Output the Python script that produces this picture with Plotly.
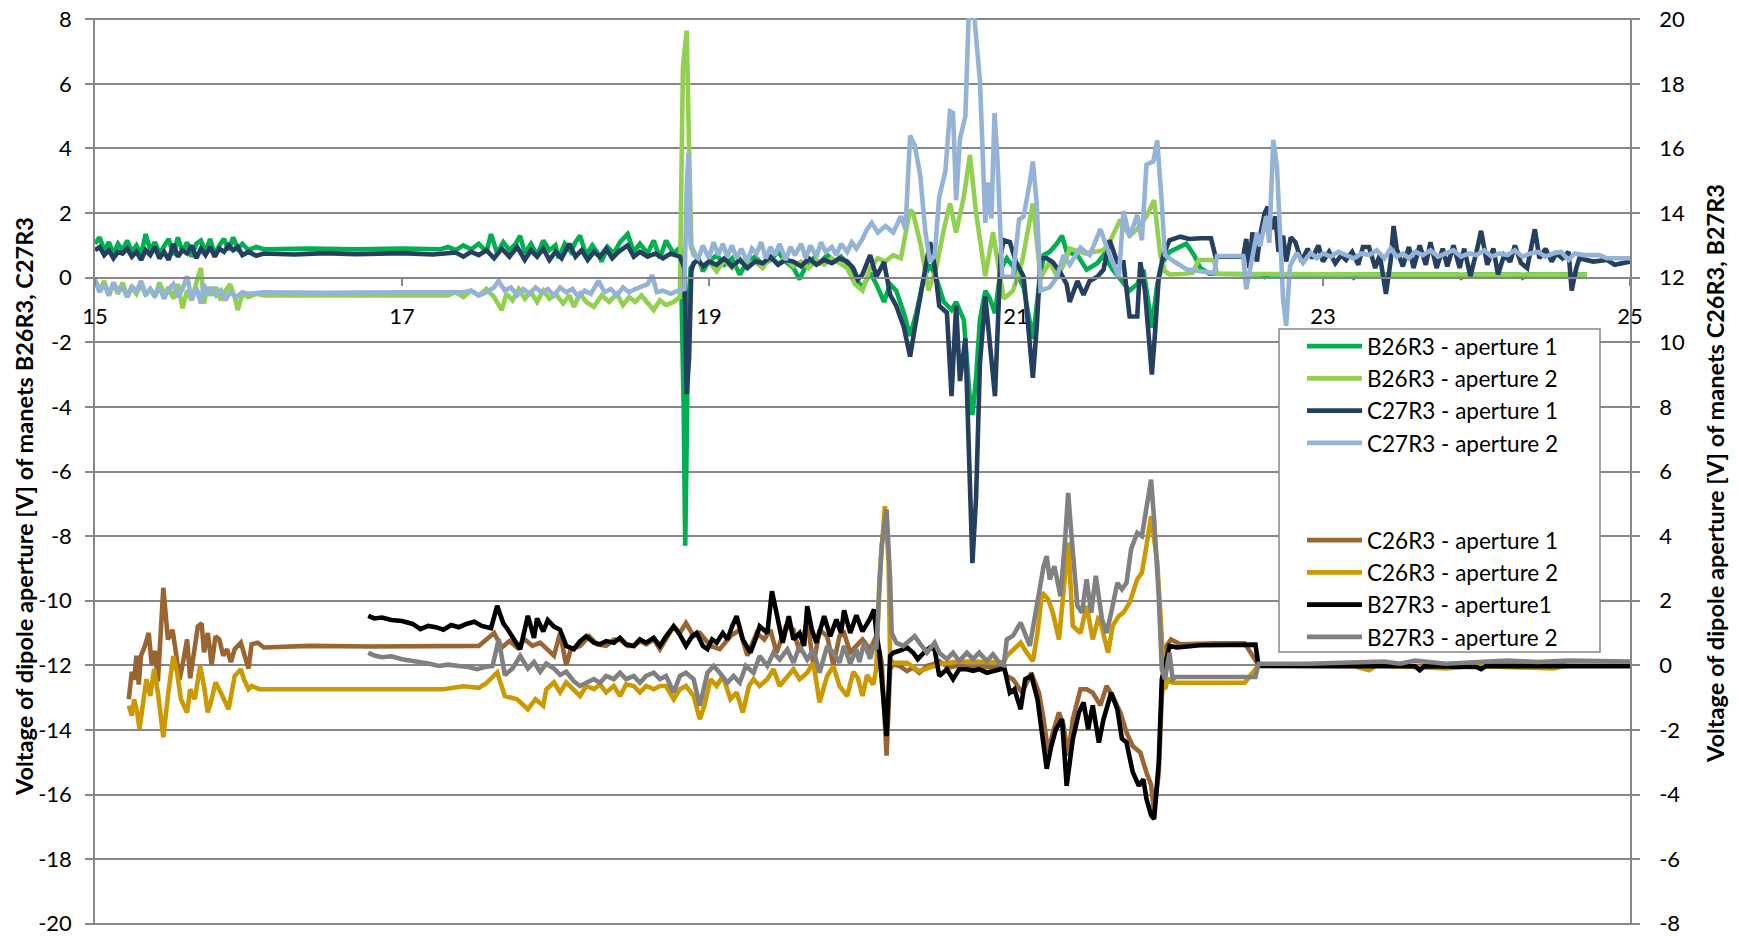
import plotly.graph_objects as go

# ---------------- data (x, value) ----------------
# Left axis series
b26_ap1 = [(15.00,1.05),(15.03,1.25),(15.06,0.85),(15.09,1.10),(15.12,0.75),(15.15,1.05),(15.18,0.85),(15.21,1.15),
 (15.24,0.80),(15.27,1.00),(15.30,0.70),(15.33,1.35),(15.36,0.85),(15.39,1.10),(15.42,0.75),(15.45,0.95),(15.48,1.20),
 (15.51,0.70),(15.54,1.25),(15.57,0.80),(15.60,1.10),(15.63,0.65),(15.66,1.05),(15.69,1.15),(15.72,0.80),(15.75,1.20),
 (15.78,0.70),(15.81,1.00),(15.84,1.20),(15.87,0.85),(15.90,1.25),(15.93,0.90),(15.96,1.05),(16.00,0.85),(16.05,0.95),
 (16.10,0.88),(16.40,0.90),(16.70,0.88),(17.00,0.90),(17.25,0.88),(17.30,0.95),(17.35,0.85),(17.40,1.00),(17.45,0.88),
 (17.50,1.05),(17.55,0.80),(17.58,1.35),(17.62,0.75),(17.66,1.10),(17.70,0.85),(17.74,1.05),(17.77,1.30),(17.80,0.75),
 (17.84,1.05),(17.88,0.70),(17.92,1.15),(17.96,0.85),(18.00,1.00),(18.02,0.60),(18.06,1.05),(18.10,0.80),(18.13,1.10),
 (18.16,1.30),(18.20,0.70),(18.24,1.00),(18.27,0.80),(18.30,0.50),(18.34,0.95),(18.38,0.75),(18.42,1.10),(18.47,1.35),
 (18.51,0.80),(18.55,1.05),(18.60,0.75),(18.64,1.15),(18.68,0.60),(18.72,1.15),(18.77,0.75),(18.815,0.95),(18.835,-4.0),
 (18.845,-8.3),(18.855,-5.0),(18.865,-1.0),(18.88,0.30),(18.93,0.60),(18.96,0.20),(19.00,0.50),(19.05,0.70),(19.10,0.40),
 (19.15,0.60),(19.20,0.10),(19.25,0.50),(19.30,0.65),(19.35,0.40),(19.40,0.55),(19.45,0.80),(19.50,0.50),(19.55,0.30),
 (19.59,-0.05),(19.63,0.35),(19.68,0.60),(19.72,0.45),(19.77,0.70),(19.82,0.50),(19.86,0.65),(19.90,0.45),(19.95,0.00),
 (20.00,-0.30),(20.05,0.15),(20.09,-0.20),(20.14,-0.75),(20.18,-0.20),(20.22,-0.40),(20.27,-1.10),(20.31,-1.80),
 (20.35,-1.10),(20.40,0.00),(20.44,0.40),(20.48,0.00),(20.53,-0.75),(20.58,-1.00),(20.61,-0.75),(20.66,-1.30),
 (20.70,-3.80),(20.716,-4.25),(20.74,-3.10),(20.765,-1.30),(20.80,-0.40),(20.83,-0.65),(20.863,-1.10),(20.90,0.25),
 (20.94,0.60),(20.98,0.35),(21.05,-0.30),(21.09,-1.30),(21.11,-1.90),(21.145,-0.45),(21.18,0.70),(21.22,0.80),
 (21.265,1.05),(21.30,1.30),(21.33,0.80),(21.40,0.70),(21.46,0.25),(21.53,0.45),(21.57,0.70),(21.63,0.25),(21.70,-0.20),
 (21.74,-0.40),(21.79,-0.20),(21.83,0.25),(21.87,-1.00),(21.885,-1.55),(21.92,-0.20),(21.96,0.50),(22.00,0.80),
 (22.07,0.95),(22.11,1.05),(22.16,0.70),(22.20,0.30),(22.26,0.12),(22.60,0.10),(22.62,0.02),(22.65,0.10),(23.18,0.10),
 (23.20,0.00),(23.23,0.10),(23.88,0.10),(23.90,0.00),(23.93,0.10),(24.28,0.10),(24.30,0.00),(24.33,0.10),(24.72,0.10)]

b26_ap2 = [(15.00,-0.05),(15.03,-0.40),(15.06,-0.10),(15.09,-0.55),(15.12,-0.20),(15.15,-0.50),(15.18,-0.15),(15.21,-0.60),
 (15.24,-0.30),(15.27,-0.50),(15.30,-0.20),(15.33,-0.55),(15.36,-0.35),(15.39,-0.60),(15.42,-0.15),(15.45,-0.50),
 (15.48,-0.30),(15.51,-0.65),(15.54,-0.20),(15.57,-0.95),(15.60,-0.40),(15.63,-0.70),(15.66,-0.15),(15.69,0.30),
 (15.71,-0.80),(15.73,-0.30),(15.76,-0.55),(15.79,-0.30),(15.82,-0.70),(15.85,-0.40),(15.88,-0.20),(15.91,-0.60),
 (15.93,-1.00),(15.96,-0.50),(16.00,-0.60),(16.05,-0.50),(16.10,-0.55),(16.50,-0.55),(17.00,-0.55),(17.30,-0.55),
 (17.35,-0.45),(17.40,-0.60),(17.45,-0.40),(17.50,-0.55),(17.55,-0.35),(17.60,-0.60),(17.65,-1.00),(17.68,-0.50),
 (17.72,-0.70),(17.76,-0.35),(17.80,-0.65),(17.84,-0.45),(17.88,-0.75),(17.92,-0.40),(17.96,-0.65),(18.00,-0.50),
 (18.05,-0.80),(18.09,-0.55),(18.12,-0.90),(18.16,-0.50),(18.20,-0.75),(18.25,-0.90),(18.30,-0.55),(18.35,-0.75),
 (18.40,-0.50),(18.44,-0.85),(18.48,-0.60),(18.52,-0.75),(18.56,-0.55),(18.60,-0.80),(18.64,-1.00),(18.68,-0.70),
 (18.72,-0.85),(18.77,-0.75),(18.81,-0.60),(18.83,6.50),(18.845,7.20),(18.855,7.65),(18.87,4.00),(18.885,1.00),
 (18.92,0.60),(18.95,0.35),(19.00,0.50),(19.05,0.20),(19.10,0.55),(19.15,0.30),(19.20,0.60),(19.25,0.40),(19.30,0.50),
 (19.35,0.30),(19.40,0.65),(19.45,0.45),(19.50,0.60),(19.55,0.35),(19.60,0.50),(19.65,0.30),(19.70,0.55),(19.75,0.40),
 (19.80,0.60),(19.85,0.45),(19.90,0.30),(19.95,-0.20),(20.00,-0.40),(20.05,0.30),(20.10,0.60),(20.15,0.50),(20.20,0.70),
 (20.25,0.60),(20.31,2.10),(20.33,2.00),(20.38,1.00),(20.43,-0.40),(20.48,0.30),(20.53,1.50),(20.57,2.30),(20.61,1.40),
 (20.66,2.50),(20.70,3.80),(20.74,2.00),(20.80,0.05),(20.85,1.40),(20.92,-0.65),(20.98,-0.40),(21.04,0.50),(21.07,1.20),
 (21.11,2.30),(21.16,0.00),(21.22,0.50),(21.27,0.00),(21.31,0.40),(21.35,0.90),(21.45,0.75),(21.57,0.85),(21.62,1.20),
 (21.68,1.80),(21.74,1.30),(21.79,1.50),(21.85,1.90),(21.90,2.40),(21.94,0.70),(21.97,0.20),(22.00,0.10),(22.10,0.12),
 (22.15,0.15),(22.19,0.55),(22.29,0.55),(22.31,0.12),(23.40,0.10),(23.42,0.02),(23.45,0.10),(24.60,0.10),(24.72,0.10)]

c27_ap1 = [(15.00,0.85),(15.03,0.95),(15.06,0.70),(15.09,0.85),(15.12,0.60),(15.15,0.80),(15.18,0.75),(15.21,0.90),
 (15.24,0.65),(15.27,0.80),(15.30,0.55),(15.33,0.85),(15.36,0.70),(15.39,0.95),(15.42,0.60),(15.45,0.80),(15.48,0.55),
 (15.51,1.05),(15.54,0.65),(15.57,0.85),(15.60,0.75),(15.63,1.00),(15.66,0.60),(15.69,0.90),(15.72,0.70),(15.75,0.95),
 (15.78,0.65),(15.81,0.90),(15.84,0.80),(15.87,1.00),(15.90,0.85),(15.93,0.95),(15.96,0.70),(16.00,0.80),(16.05,0.68),
 (16.10,0.75),(16.30,0.72),(16.50,0.76),(16.70,0.73),(17.00,0.76),(17.20,0.72),(17.35,0.78),(17.40,0.65),(17.45,0.80),
 (17.50,0.70),(17.55,0.85),(17.60,0.60),(17.65,0.90),(17.70,0.65),(17.75,0.95),(17.80,0.55),(17.84,0.85),(17.88,0.65),
 (17.92,0.90),(17.96,0.55),(18.00,0.80),(18.04,0.60),(18.09,1.05),(18.13,0.65),(18.17,0.85),(18.21,0.55),(18.25,0.80),
 (18.29,0.65),(18.33,0.90),(18.37,0.60),(18.41,0.80),(18.47,1.00),(18.51,0.65),(18.55,0.80),(18.60,0.65),(18.65,0.75),
 (18.70,0.60),(18.75,0.75),(18.81,0.65),(18.84,0.30),(18.855,-3.60),(18.87,-2.50),(18.885,0.20),(18.90,0.45),
 (18.93,0.55),(18.96,0.35),(19.00,0.50),(19.05,0.40),(19.10,0.60),(19.15,0.35),(19.20,0.55),(19.25,0.30),(19.30,0.50),
 (19.35,0.45),(19.40,0.65),(19.45,0.40),(19.50,0.55),(19.55,0.50),(19.60,0.35),(19.65,0.60),(19.70,0.40),(19.75,0.55),
 (19.80,0.45),(19.85,0.60),(19.90,0.50),(19.94,0.30),(19.97,-0.05),(20.00,0.10),(20.05,0.70),(20.09,0.03),(20.14,0.48),
 (20.18,-0.53),(20.22,-0.87),(20.27,-1.54),(20.31,-2.44),(20.35,-1.30),(20.40,0.15),(20.44,1.10),(20.47,0.37),
 (20.50,-0.87),(20.55,-1.09),(20.58,-3.67),(20.61,-0.87),(20.635,-3.20),(20.67,-1.88),(20.70,-6.40),(20.716,-8.84),
 (20.74,-6.80),(20.765,-2.66),(20.80,-0.58),(20.83,-2.10),(20.863,-3.67),(20.90,0.70),(20.92,1.16),(20.96,1.10),
 (21.00,0.48),(21.05,0.03),(21.08,-1.54),(21.11,-3.10),(21.135,-1.54),(21.16,0.60),(21.20,0.60),(21.24,0.48),
 (21.29,0.15),(21.33,-0.20),(21.35,-0.75),(21.40,-0.10),(21.44,-0.53),(21.48,-0.10),(21.53,0.03),(21.57,0.25),
 (21.61,1.16),(21.66,0.48),(21.70,0.48),(21.74,-1.20),(21.79,-1.20),(21.81,0.48),(21.84,-0.40),(21.87,-2.44),
 (21.885,-3.00),(21.905,-1.76),(21.93,0.03),(21.96,0.70),(22.00,1.16),(22.07,1.27),(22.13,1.20),(22.20,1.22),
 (22.27,1.22),(22.30,0.65),(22.48,0.65),(22.50,1.20),(22.52,0.30),(22.54,1.40),(22.57,0.50),(22.59,1.30),(22.62,2.00),
 (22.64,2.20),(22.67,1.50),(22.69,1.90),(22.71,0.80),(22.74,1.30),(22.76,0.50),(22.79,1.25),(22.82,1.10),(22.86,0.50),
 (22.90,0.90),(22.93,0.60),(22.97,1.00),(23.00,0.50),(23.04,0.80),(23.08,0.45),(23.12,0.70),(23.15,0.55),(23.19,0.80),
 (23.23,0.40),(23.26,0.95),(23.30,0.95),(23.34,0.30),(23.37,0.70),(23.41,-0.50),(23.44,0.50),(23.46,1.60),(23.48,0.90),
 (23.52,0.35),(23.56,0.95),(23.59,0.30),(23.63,1.00),(23.67,0.40),(23.70,1.10),(23.74,0.30),(23.78,0.90),(23.81,0.35),
 (23.85,1.00),(23.89,0.30),(23.92,0.90),(23.96,0.05),(24.00,0.80),(24.03,1.45),(24.07,0.40),(24.11,0.90),(24.14,0.10),
 (24.18,0.70),(24.22,0.50),(24.25,1.00),(24.29,0.45),(24.33,0.30),(24.38,1.50),(24.41,0.60),(24.45,0.90),(24.49,0.50),
 (24.52,0.75),(24.56,0.60),(24.60,0.80),(24.62,-0.40),(24.65,0.30),(24.67,0.60),(24.76,0.50),(24.85,0.55),(24.90,0.40),
 (25.00,0.50)]

c27_ap2 = [(15.00,-0.10),(15.03,-0.45),(15.06,-0.20),(15.09,-0.55),(15.12,-0.15),(15.15,-0.40),(15.18,-0.30),(15.21,-0.60),
 (15.24,-0.25),(15.27,-0.45),(15.30,-0.10),(15.33,-0.50),(15.36,-0.35),(15.39,-0.55),(15.42,-0.30),(15.45,-0.65),
 (15.48,-0.35),(15.51,-0.20),(15.54,-0.60),(15.57,-0.35),(15.60,0.05),(15.63,-0.70),(15.66,-0.30),(15.69,-0.80),
 (15.71,-0.20),(15.73,-0.55),(15.76,-0.30),(15.79,-0.55),(15.82,-0.40),(15.85,-0.70),(15.88,-0.45),(15.92,-0.60),
 (15.96,-0.45),(16.00,-0.50),(16.10,-0.45),(16.50,-0.47),(17.00,-0.45),(17.40,-0.45),(17.45,-0.40),(17.50,-0.55),
 (17.55,-0.45),(17.60,-0.30),(17.63,-0.10),(17.67,-0.40),(17.71,-0.30),(17.75,-0.55),(17.79,-0.35),(17.83,-0.50),
 (17.87,-0.30),(17.91,-0.45),(17.95,-0.35),(17.99,-0.55),(18.03,-0.30),(18.07,-0.45),(18.11,-0.35),(18.15,-0.60),
 (18.19,-0.40),(18.23,-0.50),(18.28,-0.10),(18.32,-0.45),(18.36,-0.35),(18.40,-0.55),(18.44,-0.30),(18.48,-0.45),
 (18.52,-0.35),(18.55,-0.28),(18.60,-0.20),(18.63,0.08),(18.66,-0.45),(18.70,-0.40),(18.75,-0.50),(18.80,-0.40),
 (18.84,-0.35),(18.855,2.80),(18.866,3.85),(18.88,1.00),(18.90,0.70),(18.93,0.60),(18.96,1.00),(19.00,0.60),
 (19.03,1.10),(19.06,0.70),(19.09,1.05),(19.12,0.65),(19.15,1.00),(19.18,0.60),(19.21,0.90),(19.25,0.50),(19.28,0.90),
 (19.31,0.75),(19.34,1.10),(19.37,0.60),(19.40,0.95),(19.43,0.70),(19.46,1.05),(19.50,0.55),(19.53,0.95),(19.56,0.70),
 (19.60,1.05),(19.63,0.60),(19.66,1.00),(19.70,0.65),(19.73,1.10),(19.76,0.80),(19.80,0.95),(19.83,0.70),(19.86,1.05),
 (19.90,0.80),(19.93,1.10),(19.96,0.90),(20.00,1.20),(20.03,1.50),(20.06,1.70),(20.10,1.40),(20.15,1.60),(20.20,1.40),
 (20.25,1.90),(20.28,1.50),(20.31,4.40),(20.34,4.10),(20.375,3.20),(20.41,1.40),(20.44,0.50),(20.47,0.70),(20.50,2.50),
 (20.54,3.30),(20.57,5.15),(20.59,5.10),(20.61,2.40),(20.635,4.30),(20.67,5.00),(20.69,7.90),(20.70,8.30),(20.72,8.30),
 (20.73,8.00),(20.765,6.10),(20.79,3.20),(20.80,1.70),(20.82,2.95),(20.84,1.83),(20.86,5.10),(20.88,3.60),(20.91,0.03),
 (20.98,0.03),(21.02,1.80),(21.05,1.90),(21.09,2.95),(21.11,3.60),(21.135,2.30),(21.16,-0.40),(21.22,-0.30),
 (21.265,0.00),(21.31,0.70),(21.35,0.40),(21.42,0.93),(21.48,0.70),(21.55,1.50),(21.61,0.70),(21.67,0.03),(21.70,2.06),
 (21.74,1.27),(21.79,1.94),(21.82,1.16),(21.85,3.50),(21.895,3.60),(21.92,4.25),(21.95,2.30),(21.97,0.70),(22.03,0.50),
 (22.11,0.26),(22.20,0.20),(22.29,0.15),(22.31,0.67),(22.48,0.67),(22.50,-0.36),(22.535,0.46),(22.57,1.39),(22.59,0.97),
 (22.63,1.90),(22.65,1.08),(22.676,4.27),(22.70,3.44),(22.72,1.39),(22.74,-0.67),(22.76,-1.49),(22.785,0.36),
 (22.83,0.77),(22.87,0.46),(22.92,0.77),(22.96,0.60),(23.00,0.75),(23.05,0.65),(23.10,0.80),(23.15,0.70),(23.20,0.60),
 (23.25,0.75),(23.30,0.70),(23.35,0.85),(23.40,0.60),(23.44,0.90),(23.48,0.65),(23.52,0.75),(23.56,0.60),(23.60,0.80),
 (23.65,0.70),(23.70,0.85),(23.75,0.65),(23.80,0.75),(23.85,0.85),(23.90,0.65),(23.95,0.75),(24.00,0.70),(24.05,0.85),
 (24.10,0.65),(24.15,0.75),(24.20,0.70),(24.25,0.85),(24.30,0.65),(24.35,0.75),(24.40,0.80),(24.45,0.65),(24.50,0.75),
 (24.55,0.80),(24.60,0.55),(24.64,0.75),(24.70,0.70),(24.80,0.70),(24.85,0.60),(25.00,0.60)]

# Right axis series
c26_ap1 = [(15.22,-1.05),(15.24,-0.20),(15.255,-0.45),(15.27,0.30),(15.285,-0.60),(15.30,0.30),(15.325,0.60),(15.35,1.00),
 (15.37,0.00),(15.39,0.45),(15.41,-0.50),(15.445,2.40),(15.475,0.80),(15.505,1.10),(15.53,0.30),(15.55,-0.45),(15.57,0.00),
 (15.60,0.80),(15.62,-0.40),(15.64,0.20),(15.67,1.20),(15.695,1.30),(15.71,0.40),(15.735,1.00),(15.76,0.00),(15.785,0.90),
 (15.81,0.80),(15.835,0.30),(15.86,0.50),(15.885,0.10),(15.91,0.50),(15.95,0.70),(15.97,0.40),(16.00,-0.10),(16.02,0.65),
 (16.06,0.70),(16.10,0.55),(16.40,0.60),(16.80,0.58),(17.20,0.60),(17.50,0.60),(17.60,1.00),(17.65,0.55),(17.70,0.75),
 (17.75,0.55),(17.80,0.80),(17.85,0.60),(17.90,0.70),(17.94,0.50),(17.99,0.30),(18.03,1.00),(18.07,0.00),(18.10,0.50),
 (18.16,0.60),(18.22,0.90),(18.27,0.65),(18.33,0.60),(18.38,0.80),(18.42,0.80),(18.47,0.60),(18.51,0.60),(18.55,0.75),
 (18.59,0.65),(18.64,0.80),(18.68,0.50),(18.72,0.80),(18.77,1.21),(18.81,1.00),(18.85,1.31),(18.90,0.90),(18.94,1.00),
 (19.01,0.60),(19.07,0.50),(19.14,0.90),(19.20,1.10),(19.25,0.30),(19.31,1.00),(19.36,0.80),(19.40,1.10),(19.44,0.39),
 (19.50,1.20),(19.55,1.10),(19.59,0.40),(19.64,1.40),(19.68,0.00),(19.72,1.10),(19.77,0.90),(19.81,0.00),(19.85,0.90),
 (19.88,1.00),(19.92,0.40),(19.96,0.60),(20.00,0.80),(20.05,0.50),(20.09,0.90),(20.125,0.08),(20.157,-2.80),(20.18,-0.12),
 (20.20,0.03),(20.24,-0.02),(20.29,-0.18),(20.33,-0.07),(20.37,-0.23),(20.42,-0.02),(20.46,0.03),(20.50,0.13),
 (20.56,-0.07),(20.63,0.00),(20.70,-0.08),(20.80,-0.05),(20.92,-0.10),(20.94,-0.33),(20.98,-0.43),(21.04,-0.85),
 (21.10,-0.23),(21.15,-0.85),(21.18,-1.67),(21.21,-2.70),(21.24,-2.08),(21.28,-1.46),(21.31,-1.86),(21.34,-2.80),
 (21.37,-1.67),(21.42,-0.74),(21.46,-0.74),(21.50,-0.85),(21.55,-1.24),(21.59,-0.64),(21.63,-0.95),(21.68,-1.46),
 (21.72,-2.08),(21.76,-2.50),(21.81,-2.70),(21.85,-3.32),(21.88,-3.70),(21.90,-4.56),(21.93,-3.32),(21.95,-0.95),
 (21.98,0.60),(22.01,0.80),(22.07,0.65),(22.30,0.68),(22.49,0.68),(22.58,0.00),(23.00,0.02),(23.50,-0.02),(24.00,0.00),
 (24.50,0.02),(25.00,0.00)]

c26_ap2 = [(15.22,-1.25),(15.24,-1.56),(15.255,-1.05),(15.275,-1.45),(15.29,-1.97),(15.31,-1.25),(15.335,-0.43),(15.36,-0.95),
 (15.385,-0.12),(15.41,-0.85),(15.445,-2.23),(15.475,-0.95),(15.51,0.29),(15.535,-0.23),(15.56,-1.05),(15.60,-1.46),
 (15.62,-0.74),(15.65,-1.05),(15.685,-0.02),(15.71,-0.64),(15.735,-1.46),(15.76,-1.05),(15.785,-0.53),(15.82,-0.85),
 (15.87,-1.36),(15.91,-0.33),(15.95,-0.12),(15.97,-0.43),(16.00,-0.74),(16.02,-0.64),(16.07,-0.74),(16.50,-0.74),
 (17.00,-0.74),(17.27,-0.74),(17.40,-0.65),(17.50,-0.70),(17.55,-0.55),(17.62,-0.22),(17.67,-0.95),(17.75,-1.05),
 (17.82,-1.36),(17.87,-1.05),(17.92,-1.25),(17.94,-0.75),(17.99,-0.53),(18.03,-0.84),(18.07,-0.53),(18.12,-0.74),
 (18.16,-0.95),(18.20,-0.64),(18.25,-0.74),(18.29,-0.59),(18.33,-0.84),(18.38,-0.64),(18.42,-0.95),(18.46,-0.59),
 (18.51,-0.64),(18.55,-0.84),(18.59,-0.64),(18.64,-0.74),(18.68,-0.64),(18.72,-0.64),(18.77,-1.05),(18.81,-0.74),
 (18.85,-0.64),(18.90,-0.95),(18.94,-1.67),(18.97,-1.25),(19.01,-0.43),(19.05,-0.64),(19.09,-0.33),(19.14,-1.05),
 (19.18,-0.84),(19.22,-1.46),(19.26,-0.64),(19.29,-0.43),(19.33,-0.64),(19.38,-0.43),(19.42,-0.12),(19.46,-0.64),
 (19.51,-0.33),(19.55,-0.12),(19.59,-0.43),(19.64,-0.23),(19.68,0.08),(19.72,-1.15),(19.77,-0.33),(19.81,-0.02),
 (19.85,-0.64),(19.90,-0.95),(19.94,-0.20),(19.97,-0.40),(20.00,-0.95),(20.03,-0.30),(20.07,-0.60),(20.09,-0.10),
 (20.11,2.66),(20.146,4.93),(20.17,3.20),(20.18,0.19),(20.20,0.08),(20.29,0.08),(20.37,-0.18),(20.44,-0.07),(20.50,0.03),
 (20.60,0.10),(20.70,0.12),(20.80,0.10),(20.92,0.10),(20.94,0.29),(20.98,0.49),(21.03,0.70),(21.07,0.39),(21.11,0.13),
 (21.14,1.00),(21.17,2.25),(21.21,2.04),(21.24,1.63),(21.28,0.80),(21.31,2.14),(21.34,3.80),(21.37,1.22),(21.42,1.00),
 (21.46,1.84),(21.50,0.80),(21.54,1.53),(21.57,0.90),(21.60,0.39),(21.63,1.22),(21.67,1.53),(21.70,1.63),(21.74,1.94),
 (21.79,2.66),(21.82,2.87),(21.85,3.70),(21.88,4.62),(21.92,3.20),(21.95,0.60),(21.97,-0.74),(21.99,-0.43),(22.02,-0.54),
 (22.49,-0.54),(22.58,0.00),(23.20,-0.02),(23.30,-0.15),(23.35,0.00),(23.80,-0.10),(24.00,-0.02),(24.50,-0.10),
 (24.60,0.00),(25.00,0.00)]

b27_ap1 = [(16.78,1.53),(16.82,1.45),(16.87,1.48),(16.93,1.40),(17.00,1.37),(17.07,1.28),(17.12,1.12),(17.17,1.22),
 (17.22,1.18),(17.27,1.10),(17.32,1.25),(17.37,1.18),(17.42,1.28),(17.47,1.35),(17.52,1.22),(17.58,1.15),(17.62,1.84),
 (17.66,1.30),(17.69,1.10),(17.73,0.80),(17.77,0.50),(17.82,1.53),(17.86,0.85),(17.88,1.45),(17.92,1.05),(17.95,1.40),
 (17.99,1.20),(18.03,1.10),(18.07,0.60),(18.12,0.50),(18.16,0.75),(18.20,0.90),(18.25,0.70),(18.29,0.65),(18.33,0.75),
 (18.38,0.70),(18.42,0.85),(18.46,0.65),(18.51,0.60),(18.55,0.80),(18.59,0.70),(18.64,0.85),(18.68,0.60),(18.72,0.90),
 (18.77,1.21),(18.81,0.95),(18.85,0.60),(18.89,0.90),(18.92,1.00),(18.96,0.60),(18.99,0.50),(19.02,0.80),(19.05,0.70),
 (19.09,1.00),(19.12,0.80),(19.15,1.20),(19.18,1.52),(19.22,0.80),(19.27,0.39),(19.31,0.90),(19.33,1.21),(19.38,1.00),
 (19.41,2.29),(19.44,1.62),(19.48,0.70),(19.52,1.52),(19.55,0.80),(19.59,1.00),(19.62,0.60),(19.64,1.83),(19.67,1.10),
 (19.70,0.70),(19.73,1.20),(19.75,1.52),(19.79,0.90),(19.83,1.42),(19.86,1.00),(19.88,1.70),(19.92,1.00),(19.96,1.55),
 (20.00,1.05),(20.05,1.45),(20.075,1.73),(20.09,1.00),(20.11,0.40),(20.157,-2.19),(20.18,0.29),(20.20,0.39),(20.24,0.45),
 (20.29,0.55),(20.33,0.39),(20.36,0.19),(20.40,0.39),(20.44,0.55),(20.47,0.49),(20.50,-0.33),(20.55,-0.12),(20.59,-0.43),
 (20.63,-0.12),(20.68,-0.12),(20.72,-0.17),(20.76,-0.12),(20.81,-0.23),(20.85,-0.17),(20.90,-0.12),(20.92,0.00),
 (20.94,-0.43),(20.96,-0.85),(20.99,-0.74),(21.03,-1.36),(21.06,-0.43),(21.10,-0.33),(21.14,-1.05),(21.17,-2.08),
 (21.20,-3.20),(21.23,-2.50),(21.26,-1.98),(21.30,-1.67),(21.33,-3.73),(21.37,-2.29),(21.41,-1.46),(21.44,-1.15),
 (21.47,-1.98),(21.50,-1.24),(21.54,-2.39),(21.57,-1.67),(21.59,-1.36),(21.62,-0.85),(21.66,-1.36),(21.69,-2.27),
 (21.72,-2.39),(21.76,-3.30),(21.80,-3.73),(21.83,-3.53),(21.85,-4.14),(21.88,-4.64),(21.90,-4.76),(21.93,-3.00),
 (21.95,-0.43),(21.98,0.29),(22.00,0.60),(22.05,0.55),(22.20,0.62),(22.56,0.64),(22.58,-0.02),(23.00,-0.03),
 (23.60,-0.03),(23.63,-0.15),(23.66,-0.03),(24.00,-0.05),(24.03,-0.12),(24.06,-0.03),(25.00,-0.03)]

b27_ap2 = [(16.78,0.39),(16.82,0.30),(16.87,0.25),(16.93,0.28),(17.00,0.19),(17.06,0.15),(17.12,0.09),(17.18,0.05),
 (17.24,-0.02),(17.30,0.02),(17.37,-0.02),(17.43,-0.05),(17.49,-0.12),(17.54,-0.05),(17.59,-0.02),(17.63,0.81),
 (17.67,-0.30),(17.72,-0.10),(17.77,0.29),(17.82,-0.10),(17.86,0.10),(17.90,-0.20),(17.94,0.05),(17.99,-0.10),
 (18.03,-0.30),(18.07,-0.20),(18.12,-0.50),(18.16,-0.64),(18.20,-0.54),(18.25,-0.43),(18.29,-0.54),(18.33,-0.33),
 (18.38,-0.43),(18.42,-0.23),(18.46,-0.43),(18.51,-0.33),(18.55,-0.54),(18.59,-0.33),(18.64,-0.23),(18.68,-0.43),
 (18.72,-0.33),(18.77,-0.84),(18.81,-0.33),(18.85,-0.23),(18.90,-0.43),(18.94,-1.25),(18.99,-0.23),(19.03,-0.02),
 (19.07,-0.23),(19.12,-0.54),(19.16,-0.33),(19.20,-0.54),(19.24,-0.02),(19.29,-0.23),(19.33,0.29),(19.38,-0.02),
 (19.42,0.39),(19.46,0.18),(19.51,0.49),(19.55,0.08),(19.59,0.59),(19.64,0.18),(19.68,0.49),(19.72,-0.23),(19.77,0.59),
 (19.81,0.39),(19.85,0.08),(19.88,0.60),(19.92,0.05),(19.94,0.29),(19.96,0.50),(19.98,0.10),(20.01,0.70),(20.05,0.20),
 (20.07,0.60),(20.09,0.50),(20.125,3.70),(20.157,4.82),(20.18,2.66),(20.19,1.00),(20.22,0.70),(20.265,0.60),(20.31,0.80),
 (20.34,0.90),(20.37,0.70),(20.42,0.39),(20.47,0.70),(20.50,0.39),(20.55,0.19),(20.59,0.39),(20.63,0.13),(20.68,0.39),
 (20.72,0.19),(20.76,0.39),(20.81,0.13),(20.85,0.34),(20.90,0.03),(20.92,0.00),(20.94,0.80),(20.98,0.91),(21.03,1.32),
 (21.06,0.91),(21.09,0.60),(21.12,1.42),(21.16,2.66),(21.18,3.07),(21.20,3.38),(21.22,2.66),(21.25,3.07),(21.29,2.14),
 (21.32,3.90),(21.34,5.34),(21.36,4.10),(21.40,1.84),(21.43,1.63),(21.46,2.66),(21.49,1.63),(21.52,2.77),(21.56,1.43),
 (21.59,1.00),(21.62,1.63),(21.66,2.55),(21.69,2.35),(21.72,2.55),(21.75,3.60),(21.79,4.10),(21.82,4.00),(21.85,4.93),
 (21.88,5.75),(21.90,4.50),(21.93,2.14),(21.95,-0.12),(21.97,-0.43),(22.00,0.39),(22.02,-0.43),(22.04,-0.36),
 (22.56,-0.36),(22.58,0.05),(22.90,0.05),(23.40,0.12),(23.50,0.05),(23.60,0.15),(23.80,0.05),(24.20,0.15),(24.40,0.10),
 (24.60,0.15),(25.00,0.12)]

series_names = ["B26R3 - aperture 1", "B26R3 - aperture 2", "C27R3 - aperture 1", "C27R3 - aperture 2",
                "C26R3 - aperture 1", "C26R3 - aperture 2", "B27R3 - aperture1", "B27R3 - aperture 2"]
series_data = [b26_ap1, b26_ap2, c27_ap1, c27_ap2, c26_ap1, c26_ap2, b27_ap1, b27_ap2]
series_colors = ["#00B050", "#92D050", "#243F60", "#95B3D7", "#996633", "#CC9900", "#000000", "#808080"]
series_axis = ["y", "y", "y", "y", "y2", "y2", "y2", "y2"]
series_group = ["g1", "g1", "g1", "g1", "g2", "g2", "g2", "g2"]

x_ticks = [15, 17, 19, 21, 23, 25]
left_ticks = [-20, -18, -16, -14, -12, -10, -8, -6, -4, -2, 0, 2, 4, 6, 8]
right_ticks = [-8, -6, -4, -2, 0, 2, 4, 6, 8, 10, 12, 14, 16, 18, 20]
left_title = "Voltage of dipole aperture [V] of manets B26R3, C27R3"
right_title = "Voltage of dipole aperture [V] of manets C26R3, B27R3"

# ---------------- figure ----------------
FONT = "Lato, 'Open Sans', sans-serif"
GRID = "#878787"
PAD = 0.04  # small range padding so the end grid lines are kept

fig = go.Figure()
for name, data, color, ax, grp in zip(series_names, series_data, series_colors, series_axis, series_group):
    fig.add_trace(go.Scatter(
        x=[p[0] for p in data], y=[p[1] for p in data], mode="lines", name=name,
        line=dict(color=color, width=4.6, shape="linear"), yaxis=ax, legendgroup=grp,
        hoverinfo="skip"))

W, H = 1739, 936
ml, mr, mt, mb = 95, 109, 18, 11
pw, ph = W - ml - mr, H - mt - mb

def px_x(px):
    return (px - ml) / pw

def px_y(py):
    return (H - mb - py) / ph

fig.update_layout(
    width=W, height=H,
    margin=dict(l=ml, r=mr, t=mt, b=mb, autoexpand=False),
    paper_bgcolor="white", plot_bgcolor="white",
    font=dict(family=FONT, size=22, color="black"),
    showlegend=True,
    xaxis=dict(range=[15, 25], anchor="free", position=(20 + PAD) / (28 + 2 * PAD), tickvals=x_ticks,
               ticktext=[str(v) for v in x_ticks], showgrid=False, zeroline=False, automargin=False,
               showline=True, linecolor=GRID, linewidth=1.5, ticks="outside", ticklen=8,
               tickcolor=GRID, tickwidth=1.5, tickfont=dict(size=22), ticklabelstandoff=11),
    yaxis=dict(range=[-20 - PAD, 8 + PAD], tickvals=left_ticks, ticktext=[str(v) for v in left_ticks],
               showgrid=True, gridcolor=GRID, gridwidth=1.5, automargin=False, ticklabeloverflow="allow",
               zeroline=False, showline=True, linecolor=GRID, linewidth=1.5, ticks="outside",
               ticklen=8, tickcolor=GRID, tickwidth=1.5, tickfont=dict(size=22), ticklabelstandoff=9),
    yaxis2=dict(range=[-8 - PAD, 20 + PAD], tickvals=right_ticks, ticktext=[str(v) for v in right_ticks],
                overlaying="y", side="right", anchor="x", automargin=False, ticklabeloverflow="allow",
                showgrid=False, zeroline=False, showline=True, linecolor=GRID, linewidth=1.5,
                ticks="outside", ticklen=8, tickcolor=GRID, tickwidth=1.5, tickfont=dict(size=22),
                ticklabelstandoff=15),
    legend=dict(x=px_x(1302), y=px_y(325), xanchor="left", yanchor="top",
                bgcolor="rgba(0,0,0,0)", borderwidth=0,
                font=dict(family=FONT, size=22.5, color="black"),
                traceorder="grouped", tracegroupgap=65, itemwidth=55),
    shapes=[dict(type="rect", xref="paper", yref="paper", x0=px_x(1279), x1=px_x(1600),
                 y0=px_y(652), y1=px_y(329), fillcolor="white", line=dict(color=GRID, width=1.5),
                 layer="above")],
    annotations=[
        dict(text=left_title, xref="paper", yref="paper",
             x=px_x(24), y=px_y(507), textangle=-90, showarrow=False,
             xanchor="center", yanchor="middle",
             font=dict(family=FONT, size=23.5, color="black", weight="bold")),
        dict(text=right_title, xref="paper", yref="paper",
             x=px_x(1715), y=px_y(474), textangle=-90, showarrow=False,
             xanchor="center", yanchor="middle",
             font=dict(family=FONT, size=23.5, color="black", weight="bold")),
    ],
)

fig.write_html("out.html")
